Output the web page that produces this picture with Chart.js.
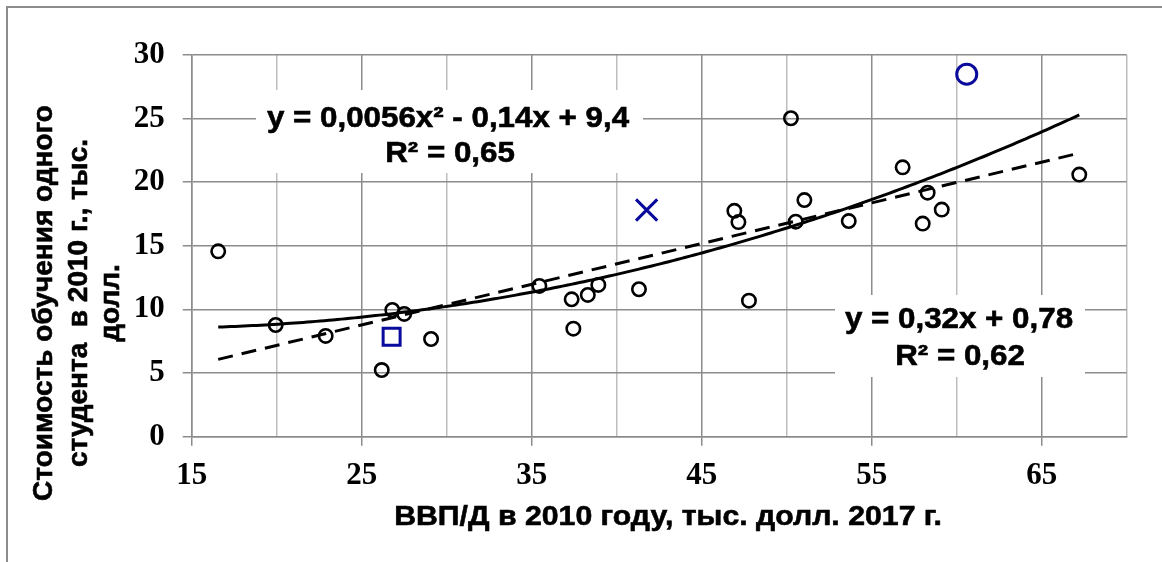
<!DOCTYPE html>
<html>
<head>
<meta charset="utf-8">
<script src="https://cdn.jsdelivr.net/npm/chart.js@4/dist/chart.umd.min.js"></script>
<style>
html,body{margin:0;padding:0;background:#fff;}
#wrap{position:relative;width:1162px;height:562px;}
canvas{display:block;}
</style>
</head>
<body>
<div id="wrap"><canvas id="c" width="1162" height="562"></canvas></div>
<script>
// ---- data ----
const gdpX = [16.56,19.94,22.88,26.18,26.8,27.5,29.08,35.45,37.35,37.45,38.3,38.92,41.31,46.92,47.16,47.78,50.25,50.53,51.04,53.65,56.82,58.0,58.29,59.12,67.21];
const costY = [14.57,8.78,7.92,5.24,9.96,9.65,7.68,11.85,10.8,8.49,11.14,11.93,11.59,17.75,16.87,10.69,25.03,16.9,18.6,16.95,21.17,16.75,19.18,17.85,20.6];
const squareX = [26.76], squareY = [7.86];
const crossX = [41.76], crossY = [17.82];
const ringX = [60.59], ringY = [28.49];
const quadCoef = [0.0056, -0.14, 9.4];   // y = a x^2 + b x + c (shown on chart)
const linCoef = [0.32, 0.78];             // y = k x + m (shown on chart)
const trendRange = [16.56, 67.21];
const xTicks = [15,25,35,45,55,65];
const yTicks = [0,5,10,15,20,25,30];
const xTitle = 'ВВП/Д в 2010 году, тыс. долл. 2017 г.';
const yTitle = ['Стоимость обучения одного', 'студента  в 2010 г., тыс.', 'долл.'];
const eqQuad = ['y = 0,0056x² - 0,14x + 9,4', 'R² = 0,65'];
const eqLin = ['y = 0,32x + 0,78', 'R² = 0,62'];

const pts = (xs, ys) => xs.map((x, i) => ({x, y: ys[i]}));
const quadPts = [], linPts = [];
for (let x = trendRange[0]; x <= trendRange[1] + 1e-9; x += 0.25) {
  quadPts.push({x, y: quadCoef[0]*x*x + quadCoef[1]*x + quadCoef[2]});
}
quadPts.push({x: trendRange[1], y: quadCoef[0]*trendRange[1]**2 + quadCoef[1]*trendRange[1] + quadCoef[2]});
linPts.push({x: trendRange[0], y: linCoef[0]*trendRange[0] + linCoef[1]});
linPts.push({x: trendRange[1], y: linCoef[0]*trendRange[1] + linCoef[1]});

const BLUE = '#0a0a9c';
const MAJOR = '#8c8c8c', MINOR = '#bdbdbd';

function txt(ctx, s, cx, base, font, sx) {
  ctx.save();
  ctx.font = font;
  ctx.fillStyle = '#000';
  ctx.strokeStyle = '#000';
  ctx.lineWidth = 0.6;
  ctx.textAlign = 'center';
  ctx.textBaseline = 'alphabetic';
  ctx.translate(cx, base);
  ctx.scale(sx, 1);
  ctx.fillText(s, 0, 0);
  ctx.strokeText(s, 0, 0);
  ctx.restore();
}

const decor = {
  id: 'decor',
  beforeDraw(chart) {
    const ctx = chart.ctx;
    ctx.save();
    ctx.fillStyle = '#fff';
    ctx.fillRect(0, 0, chart.width, chart.height);
    ctx.strokeStyle = '#8c8c8c';
    ctx.lineWidth = 2;
    ctx.beginPath();
    ctx.moveTo(7, 562); ctx.lineTo(7, 7); ctx.lineTo(1162, 7);
    ctx.stroke();
    ctx.restore();
  },
  beforeDatasetsDraw(chart) {
    const ctx = chart.ctx;
    const F = 'bold 29px "Liberation Sans", Arial, sans-serif';
    ctx.save();
    ctx.fillStyle = '#fff';
    ctx.fillRect(256, 90, 387, 83);
    ctx.fillRect(835, 295, 250, 82);
    ctx.restore();
    txt(ctx, eqQuad[0], 448, 127, F, 1.08);
    txt(ctx, eqQuad[1], 450, 162, F, 1.08);
    txt(ctx, eqLin[0], 959, 328, F, 1.08);
    txt(ctx, eqLin[1], 960, 365, F, 1.08);
  },
  afterDraw(chart) {
    const ctx = chart.ctx;
    txt(ctx, xTitle, 668, 525, 'bold 28px "Liberation Sans", Arial, sans-serif', 1.08);
    const bases = [52, 87, 119];
    yTitle.forEach((s, i) => {
      ctx.save();
      ctx.font = 'bold 28px "Liberation Sans", Arial, sans-serif';
      ctx.fillStyle = '#000';
      ctx.strokeStyle = '#000';
      ctx.lineWidth = 0.6;
      ctx.textAlign = 'center';
      ctx.textBaseline = 'alphabetic';
      ctx.translate(bases[i], 303);
      ctx.rotate(-Math.PI / 2);
      ctx.fillText(s, 0, 0);
      ctx.strokeText(s, 0, 0);
      ctx.restore();
    });
  }
};

const tickFont = {family: '"Liberation Serif", "Times New Roman", serif', size: 31, weight: 'bold'};

new Chart(document.getElementById('c'), {
  type: 'scatter',
  data: {
    datasets: [
      {data: quadPts, showLine: true, borderColor: '#000', borderWidth: 3, pointRadius: 0, tension: 0, order: 1},
      {data: linPts, showLine: true, borderColor: '#000', borderWidth: 3, borderDash: [15, 9], pointRadius: 0, order: 1},
      {data: pts(gdpX, costY), pointStyle: 'circle', pointRadius: 6.7, borderWidth: 2.6, borderColor: '#000', backgroundColor: 'rgba(0,0,0,0)', order: 2},
      {data: pts(squareX, squareY), pointStyle: 'rect', pointRadius: 12, borderWidth: 3, borderColor: BLUE, backgroundColor: 'rgba(0,0,0,0)', order: 2},
      {data: pts(crossX, crossY), pointStyle: 'crossRot', pointRadius: 15, borderWidth: 3, borderColor: BLUE, backgroundColor: BLUE, order: 2},
      {data: pts(ringX, ringY), pointStyle: 'circle', pointRadius: 10, borderWidth: 3, borderColor: BLUE, backgroundColor: 'rgba(0,0,0,0)', order: 2}
    ]
  },
  options: {
    responsive: false,
    animation: false,
    devicePixelRatio: 1,
    events: [],
    layout: {padding: {top: 55, right: 35.3, bottom: 0, left: 0}},
    plugins: {legend: {display: false}, tooltip: {enabled: false}},
    scales: {
      x: {
        type: 'linear', min: 15, max: 70,
        afterFit(s) { s.height = 125.3; },
        afterBuildTicks(s) { const t = []; for (let v = 15; v <= 70; v += 5) t.push({value: v}); s.ticks = t; },
        ticks: {
          autoSkip: false, maxRotation: 0, padding: 12, color: '#000', font: tickFont,
          callback: v => xTicks.includes(v) ? String(v) : ''
        },
        grid: {
          color: c => xTicks.includes(c.tick.value) ? MAJOR : MINOR,
          tickColor: c => xTicks.includes(c.tick.value) ? MAJOR : 'rgba(0,0,0,0)',
          lineWidth: 1.5, tickLength: 9, drawTicks: true
        },
        border: {display: true, color: MAJOR, width: 1.5}
      },
      y: {
        type: 'linear', min: 0, max: 30,
        afterFit(s) { s.width = 191.7; },
        afterBuildTicks(s) { s.ticks = yTicks.map(v => ({value: v})); },
        ticks: {padding: 18, color: '#000', font: tickFont, callback: v => String(v)},
        grid: {color: MAJOR, tickColor: MAJOR, lineWidth: 1.5, tickLength: 9},
        border: {display: true, color: MAJOR, width: 1.5}
      }
    }
  },
  plugins: [decor]
});
</script>
</body>
</html>
